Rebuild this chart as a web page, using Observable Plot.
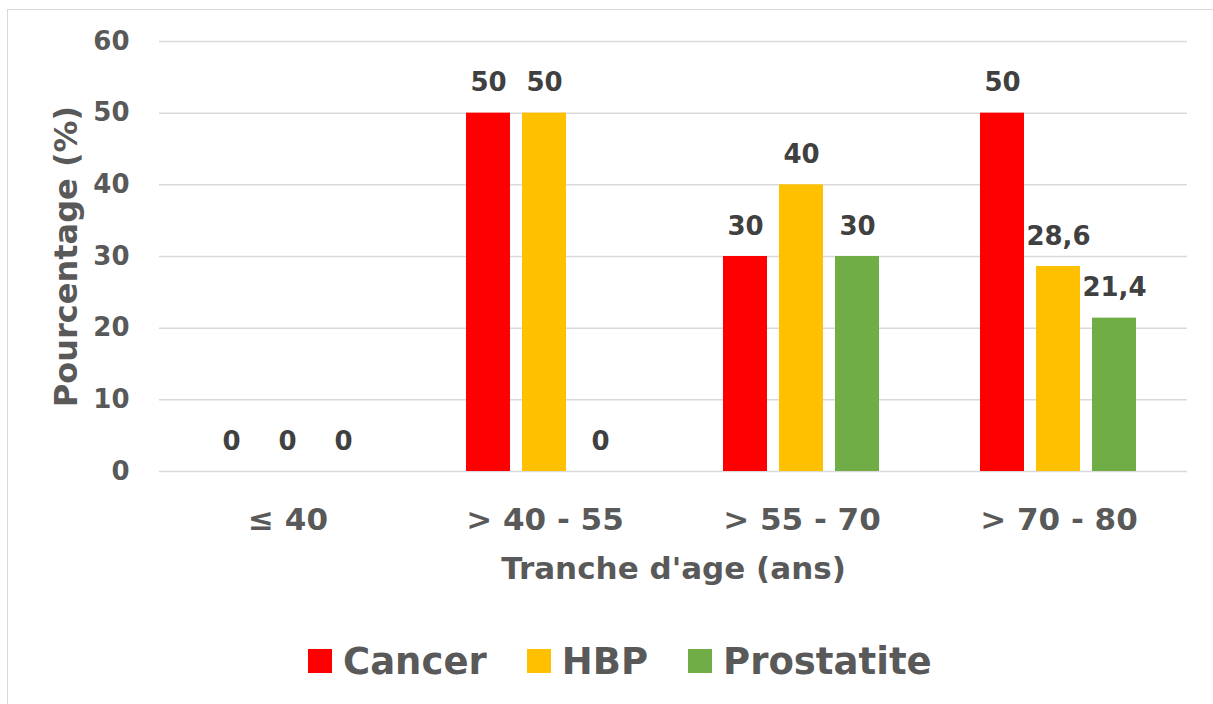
<!DOCTYPE html>
<html>
<head>
<meta charset="utf-8">
<script src="https://cdn.jsdelivr.net/npm/d3@7"></script>
<script src="https://cdn.jsdelivr.net/npm/@observablehq/plot@0.6"></script>
<style>
  body { margin: 0; background: #fff; }
  #wrap { position: relative; width: 1213px; height: 704px; overflow: hidden; background: #fff; font-family: "DejaVu Sans", sans-serif; }
  #frame { position: absolute; left: 7px; top: 9px; width: 1230px; height: 720px; border: 1.5px solid #d9d9d9; box-sizing: border-box; }
  #chart { position: absolute; left: 0; top: 0; }
  #legend { position: absolute; left: 308px; top: 639px; height: 44px; display: flex; align-items: center; font-weight: bold; font-size: 37px; color: #595959; }
  .item { display: flex; align-items: center; margin-right: 40px; }
  .sw { width: 24px; height: 24px; margin-right: 11px; }
</style>
</head>
<body>
<div id="wrap">
  <div id="frame"></div>
  <div id="chart"></div>
  <div id="legend"></div>
</div>
<script>
const categories = ["≤ 40", "> 40 - 55", "> 55 - 70", "> 70 - 80"];
const series = ["Cancer", "HBP", "Prostatite"];
const cancer = [0, 50, 30, 50];
const hbp = [0, 50, 40, 28.6];
const prostatite = [0, 0, 30, 21.4];
const colors = ["#FF0000", "#FFC000", "#70AD47"];
const yTicks = [0, 10, 20, 30, 40, 50, 60];
const yTitle = "Pourcentage (%)";
const xTitle = "Tranche d'age (ans)";

const values = [cancer, hbp, prostatite];
const data = [];
categories.forEach((c, i) => {
  series.forEach((s, j) => data.push({cat: c, s: s, v: values[j][i]}));
});
const fmt = v => String(v).replace(".", ",");

const chart = Plot.plot({
  width: 1213,
  height: 620,
  marginTop: 41,
  marginBottom: 149,
  marginLeft: 158,
  marginRight: 25,
  style: {fontFamily: "'DejaVu Sans', sans-serif", fontWeight: "bold", color: "#595959", background: "transparent", overflow: "visible"},
  fx: {domain: categories, padding: 0, axis: null},
  x: {domain: series, paddingInner: 0.212, paddingOuter: 0.876, axis: null},
  y: {domain: [0, 60], axis: null},
  color: {domain: series, range: colors},
  marks: [
    Plot.ruleY(yTicks, {stroke: "#d9d9d9", strokeWidth: 1.5}),
    Plot.barY(data, {fx: "cat", x: "s", y: "v", fill: "s"}),
    Plot.text(data, {fx: "cat", x: "s", y: "v", text: d => fmt(d.v), dy: -30, fill: "#404040", fontSize: 26, fontWeight: "bold"}),
    Plot.axisY(yTicks, {tickSize: 0, tickPadding: 30, fontSize: 26, fontWeight: "bold", label: null}),
    Plot.axisY({ticks: [], tickSize: 0, fontSize: 32, fontWeight: "bold", label: yTitle, labelAnchor: "center", labelArrow: "none", labelOffset: 105}),
    Plot.axisFx({anchor: "bottom", tickSize: 0, tickPadding: 36, fontSize: 31, fontWeight: "bold", label: xTitle, labelAnchor: "center", labelArrow: "none", labelOffset: 107})
  ]
});
document.getElementById("chart").appendChild(chart);

const legend = document.getElementById("legend");
series.forEach((s, i) => {
  const item = document.createElement("div");
  item.className = "item";
  const sw = document.createElement("div");
  sw.className = "sw";
  sw.style.background = colors[i];
  const t = document.createElement("span");
  t.textContent = s;
  item.appendChild(sw);
  item.appendChild(t);
  legend.appendChild(item);
});
</script>
</body>
</html>
